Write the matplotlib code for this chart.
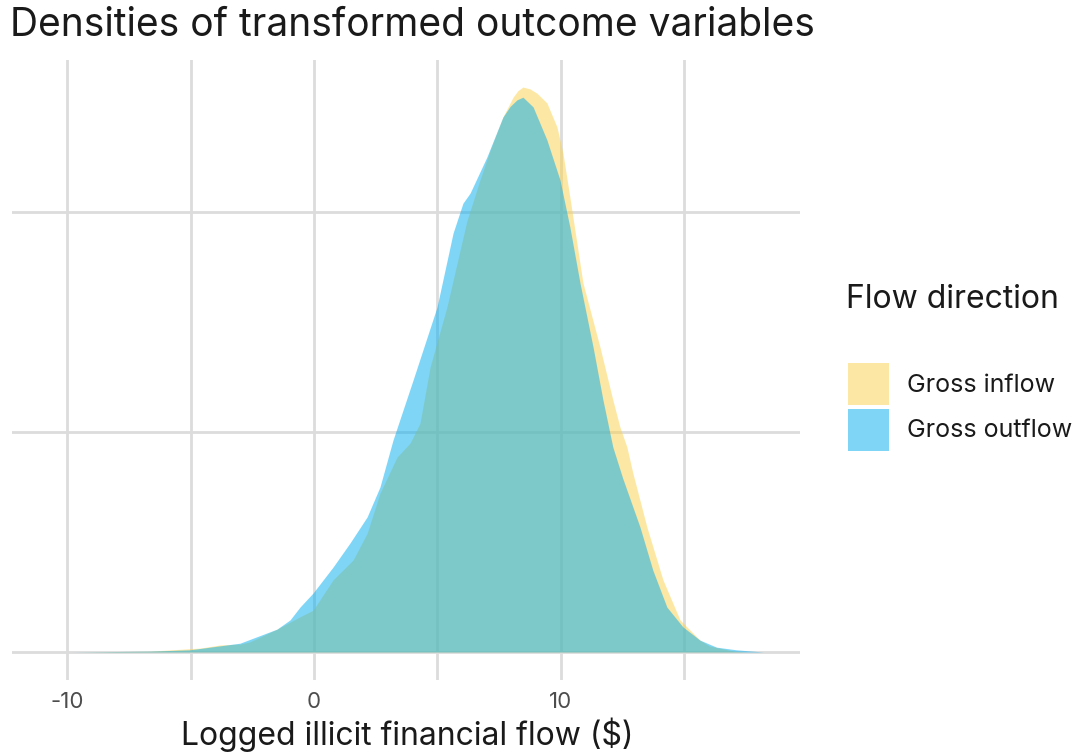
import matplotlib
matplotlib.use("Agg")
import matplotlib.pyplot as plt
from matplotlib.patches import Rectangle

# ---- data ----
inflow_x = [-9.5, -6.6, -4.6, -3.8, -3.0, -2.6, -1.5, -0.57, -0.04, 0.77, 1.58, 2.15, 2.67,
            3.36, 3.89, 4.29, 4.7, 5.38, 6.19, 6.72, 7.13, 7.65, 8.06, 8.26, 8.46, 8.74, 9.03,
            9.43, 9.84, 10.08, 10.36, 10.89, 11.58, 12.1, 12.39, 12.67, 12.91, 13.48, 14.13,
            14.82, 15.1, 15.63, 16.0, 17.0, 17.5]
inflow_y = [0.0, 0.0002, 0.0009, 0.0016, 0.0018, 0.0023, 0.0052, 0.0080, 0.0095, 0.0164, 0.0209,
            0.0270, 0.0361, 0.0443, 0.0475, 0.0520, 0.0648, 0.0784, 0.0980, 0.1073, 0.1140,
            0.1216, 0.1261, 0.1276, 0.1284, 0.1280, 0.1270, 0.1248, 0.1193, 0.1134, 0.1034,
            0.0839, 0.0693, 0.0573, 0.0511, 0.0466, 0.0407, 0.0284, 0.0164, 0.0073, 0.0057,
            0.0027, 0.0014, 0.0002, 0.0]

outflow_x = [-9.8, -6.64, -5.02, -3.0, -1.5, -0.97, -0.57, -0.04, 0.77, 1.46, 2.15, 2.67, 3.2,
             4.01, 4.98, 5.63, 6.03, 6.32, 7.0, 7.65, 7.94, 8.22, 8.46, 8.87, 9.43, 9.96, 10.36,
             10.77, 11.3, 11.7, 12.1, 12.5, 13.2, 13.72, 14.29, 14.94, 15.63, 16.3, 17.1, 18.2]
outflow_y = [0.0, 0.0002, 0.0005, 0.0020, 0.0052, 0.0073, 0.0102, 0.0134, 0.0193, 0.0248, 0.0307,
             0.0375, 0.0482, 0.0618, 0.0784, 0.0952, 0.1020, 0.1043, 0.1125, 0.1216, 0.1240,
             0.1255, 0.1261, 0.1239, 0.1164, 0.1073, 0.0966, 0.0839, 0.0693, 0.0573, 0.0466,
             0.0395, 0.0284, 0.0186, 0.0102, 0.0057, 0.0027, 0.0011, 0.0005, 0.0]

series_labels = ["Gross inflow", "Gross outflow"]
series_colors = ["#FBD14B", "#00ADEF"]
x_ticks = [-10, 0, 10]
x_tick_labels = ["-10", "0", "10"]
x_minor = [-5, 5, 15]
y_ticks = [0.0, 0.05, 0.10]

FONT = ["Inter", "DejaVu Sans"]
plt.rcParams["font.family"] = FONT

W, H = 1079, 752
fig = plt.figure(figsize=(W / 100, H / 100), dpi=100)

def fx(px):
    return px / W

def fy(py):
    return 1 - py / H

ax = fig.add_axes([fx(12), fy(680), fx(800) - fx(12), fy(60) - fy(680)])
ax.set_xlim(-12.23, 19.68)
ax.set_ylim(-0.00636, 0.13455)

grid_c = "#DCDCDC"
for v in x_ticks + x_minor:
    ax.axvline(v, color=grid_c, lw=2.0, zorder=0)
for v in y_ticks:
    ax.axhline(v, color=grid_c, lw=2.0, zorder=0)

ax.fill_between(inflow_x, inflow_y, 0, color=series_colors[0], alpha=0.5, lw=0, zorder=2)
ax.fill_between(outflow_x, outflow_y, 0, color=series_colors[1], alpha=0.5, lw=0, zorder=3)

for s in ax.spines.values():
    s.set_visible(False)
ax.set_xticks(x_ticks)
ax.set_xticklabels(x_tick_labels)
ax.set_yticks([])
ax.tick_params(axis="x", length=0, pad=9, labelsize=16, labelcolor="#4D4D4D")

fig.text(fx(407), fy(735), "Logged illicit financial flow ($)", fontsize=23, color="#1A1A1A",
         va="center", ha="center")

fig.text(fx(10), fy(26), "Densities of transformed outcome variables", fontsize=28,
         color="#1A1A1A", va="center", ha="left")

# legend
fig.text(fx(846), fy(300), "Flow direction", fontsize=23, color="#1A1A1A", va="center", ha="left")
key_tops = [363, 409]
for i, (lab, col) in enumerate(zip(series_labels, series_colors)):
    t = key_tops[i]
    r = Rectangle((fx(848), fy(t + 42)), fx(889) - fx(848), fy(t) - fy(t + 42),
                  transform=fig.transFigure, facecolor=col, alpha=0.5, edgecolor="none")
    fig.patches.append(r)
    fig.text(fx(907), fy(t + 22), lab, fontsize=18, color="#1A1A1A", va="center", ha="left")

fig.savefig("out.png", dpi=100, facecolor="white")
